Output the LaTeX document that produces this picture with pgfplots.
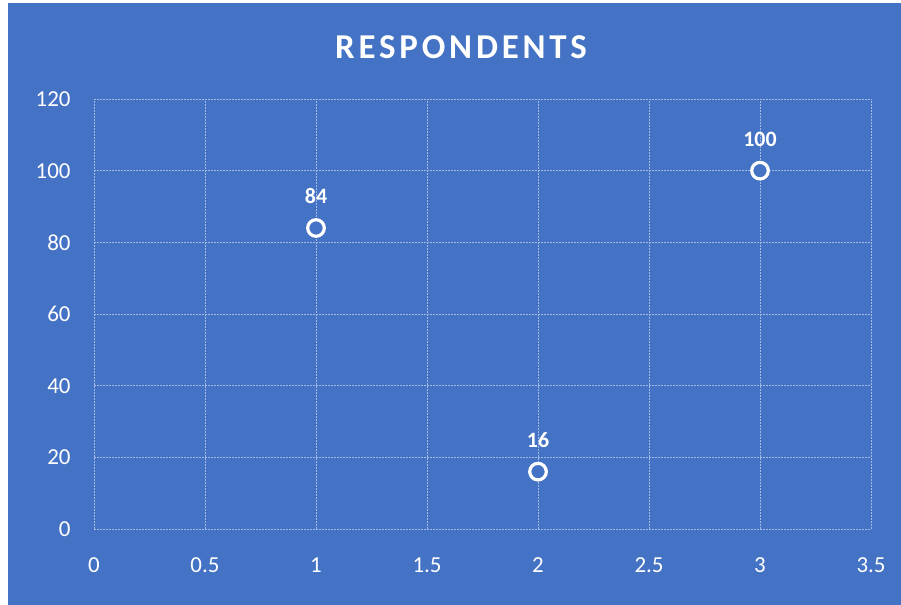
\documentclass[border=0pt]{standalone}
\usepackage{pgfplots}
\pgfplotsset{compat=1.18}
\usepackage{fontspec}
\setmainfont{Carlito}
\definecolor{bg}{HTML}{4472C4}
\definecolor{gridc}{HTML}{A4BAE3}
\begin{document}
\begin{tikzpicture}[x=1bp,y=1bp]
\fill[white] (0,0) rectangle (901,605);
\fill[bg] (8,0) rectangle (901,602);
\node[text=white,font=\fontsize{35}{40}\selectfont\bfseries\addfontfeature{LetterSpace=11}] at (461,558) {RESPONDENTS};
\begin{axis}[
  at={(94bp,76bp)}, anchor=south west,
  scale only axis, width=777bp, height=430bp,
  xmin=0, xmax=3.5, ymin=0, ymax=120,
  xtick={0,0.5,...,3.5}, ytick={0,20,...,120},
  axis line style={draw=none},
  major tick length=0pt,
  grid=major,
  major grid style={gridc, line width=0.9bp, dash pattern=on 2bp off 1bp},
  tick label style={text=white, font=\fontsize{23}{26}\selectfont},
  xticklabel style={yshift=-25bp},
  yticklabel style={xshift=-20bp},
  /pgf/number format/assume math mode=true,
  xticklabel={\pgfmathprintnumber[fixed,precision=1]{\tick}},
  clip=false,
  nodes near coords,
  nodes near coords style={text=white, font=\fontsize{22}{25}\selectfont\bfseries, yshift=19bp},
]
\addplot[only marks, mark=*, mark size=8.3bp, mark options={fill=bg, draw=white, line width=3.2bp}] coordinates {(1,84) (2,16) (3,100)};
\end{axis}
\end{tikzpicture}
\end{document}
